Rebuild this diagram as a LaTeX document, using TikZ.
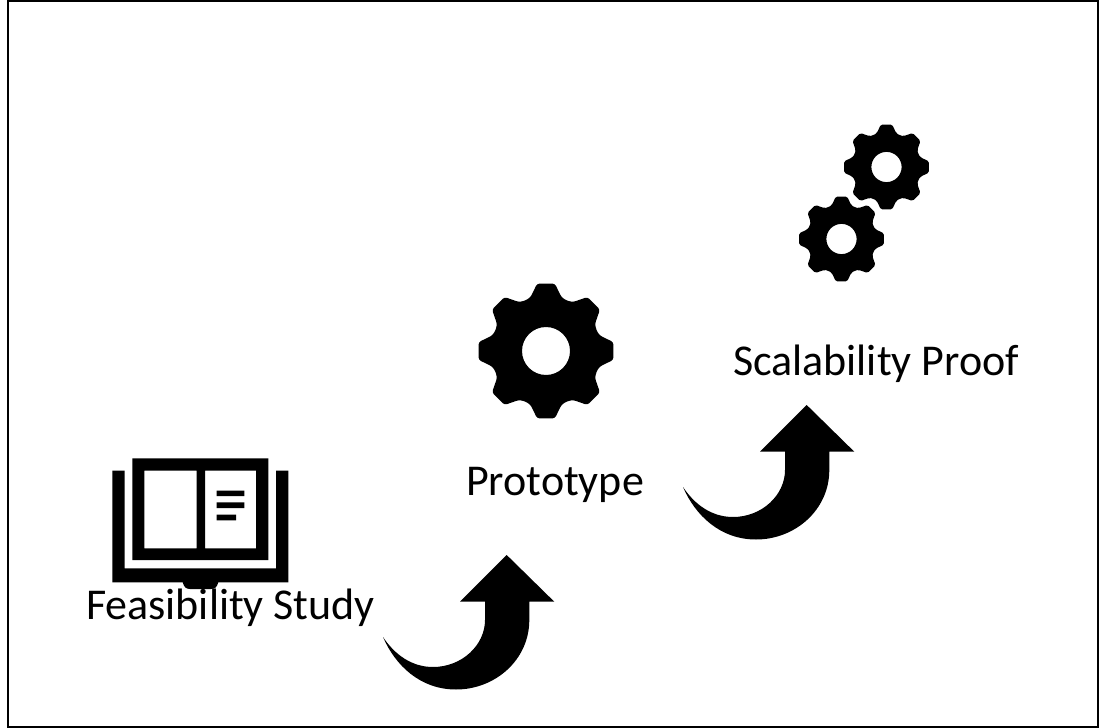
\documentclass[tikz,border=0pt]{standalone}
\usepackage{fontspec}
\setmainfont{Carlito}
\tikzset{
  every picture/.style={x=1bp,y=-1bp},
  lbl/.style={inner sep=0pt,font=\fontsize{44bp}{50bp}\selectfont,text=black,anchor=base},
  icon/.style={fill=black,draw=none,even odd rule}
}
% \gearat{x}{y}{scale}: R=68 units at scale 1
\newcommand{\gearat}[3]{%
  \fill[icon,rounded corners=#3*2.5bp,shift={(#1,#2)},scale=#3]
    (82.5:68) -- (97.5:68) -- (106:56) -- (112.5:54.5) -- (119:56)
    -- (127.5:68) -- (142.5:68) -- (151:56) -- (157.5:54.5) -- (164:56)
    -- (172.5:68) -- (187.5:68) -- (196:56) -- (202.5:54.5) -- (209:56)
    -- (217.5:68) -- (232.5:68) -- (241:56) -- (247.5:54.5) -- (254:56)
    -- (262.5:68) -- (277.5:68) -- (286:56) -- (292.5:54.5) -- (299:56)
    -- (307.5:68) -- (322.5:68) -- (331:56) -- (337.5:54.5) -- (344:56)
    -- (352.5:68) -- (7.5:68) -- (16:56) -- (22.5:54.5) -- (29:56)
    -- (37.5:68) -- (52.5:68) -- (61:56) -- (67.5:54.5) -- (74:56) -- cycle
    (0,0) circle[radius=24];
}
% \upcurve{dx}{dy}
\newcommand{\upcurve}[2]{%
  \fill[icon,shift={(#1,#2)}]
    (506.7,555) -- (554.3,601.7) -- (529.3,601.7) -- (529.3,620)
    .. controls (529.3,660) and (495,689.5) .. (456,689.5)
    .. controls (420,689.5) and (395,665) .. (383,637)
    .. controls (395,655) and (412,667) .. (433,667)
    .. controls (462,667) and (485,645) .. (485,620)
    -- (485,601.7) -- (460,601.7) -- cycle;
}
\begin{document}
\begin{tikzpicture}
\useasboundingbox (0,0) rectangle (1101,728);
\fill[white] (0,0) rectangle (1101,728);
\draw[black,line width=2bp] (8,1.5) rectangle (1098,726.5);
% book
\fill[icon] (132.3,458.3) rectangle (268.3,560)
  (144.3,470.7) rectangle (196.7,548.3)
  (205,470.7) rectangle (256,548.3);
\fill[icon] (216.7,490.7) rectangle (244.3,496)
  (216.7,502.3) rectangle (244.3,508)
  (216.7,514.7) rectangle (236,520.3);
\fill[icon] (112.3,470.7) -- (124.7,470.7) -- (124.7,568.3) -- (276,568.3) -- (276,470.7)
  -- (288.3,470.7) -- (288.3,582.3) -- (218.3,582.3)
  .. controls (217,587) and (215,589) .. (211,589) -- (190,589)
  .. controls (186,589) and (184,587) .. (182.7,582.3) -- (112.3,582.3) -- cycle;
% gears
\gearat{546}{351}{1}
\gearat{886.5}{167}{0.63}
\gearat{841.5}{239}{0.63}
% arrows
\upcurve{0}{0}
\upcurve{300}{-150}
% labels
\node[lbl] (feasibility) at (230,732) {};
\node[lbl] (feas) at (230.5,619) {Feasibility Study};
\node[lbl] (proto) at (555,495) {Prototype};
\node[lbl] (scal) at (876,375) {Scalability Proof};
\end{tikzpicture}
\end{document}
